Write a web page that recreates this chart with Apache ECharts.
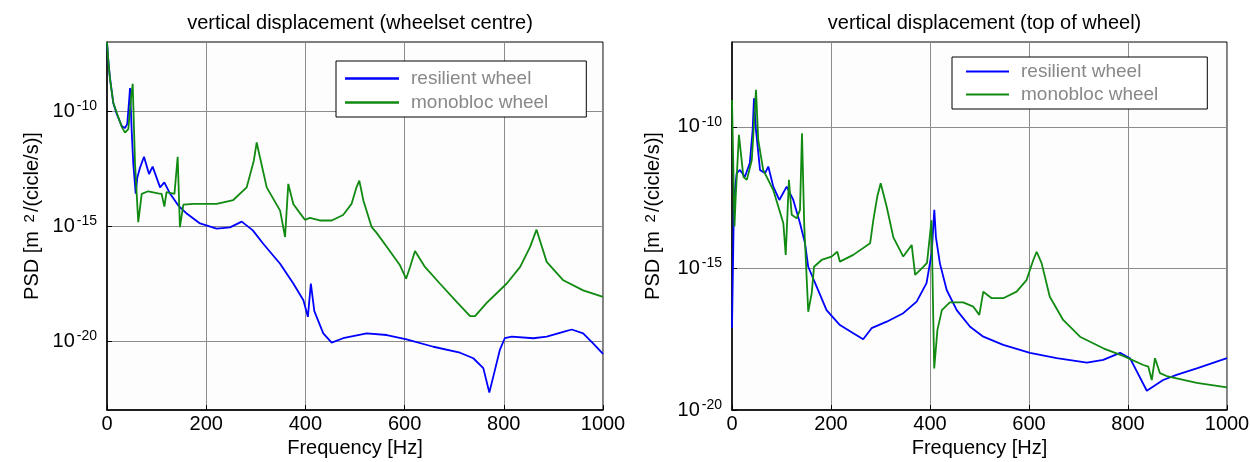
<!DOCTYPE html>
<html>
<head>
<meta charset="utf-8">
<script src="https://cdn.jsdelivr.net/npm/echarts@6/dist/echarts.min.js"></script>
<style>
html, body { margin: 0; padding: 0; background: #fff; }
#chart { width: 1250px; height: 462px; }
</style>
</head>
<body>
<div id="chart"></div>
<script>
// frequency [Hz] and log10 of PSD
const centreResFreq = [0, 3, 6, 12.7, 19.6, 29.6, 36.3, 40.9, 45, 46.4, 49.8, 53, 57.9, 61, 66.5, 74.6, 84.7, 92, 107, 115.6, 127, 143.8, 160.7, 187.5, 221, 248, 271.6, 294, 315, 349, 375.6, 396, 405, 411, 418, 436, 453, 476, 523.6, 564, 604, 658, 711.7, 738.5, 758.7, 770.8, 778.8, 792, 802, 816, 859.5, 886.5, 920, 937, 960, 980, 1000]
const centreResExp = [-7, -7.9, -8.57, -9.65, -10.13, -10.65, -10.74, -10.56, -9.44, -9.0, -10.87, -12.29, -13.59, -12.9, -12.47, -11.99, -12.74, -12.42, -13.32, -13.1, -13.59, -14.11, -14.46, -14.89, -15.11, -15.06, -14.81, -15.19, -15.77, -16.64, -17.5, -18.23, -18.95, -17.5, -18.7, -19.67, -20.07, -19.88, -19.67, -19.74, -19.93, -20.25, -20.51, -20.75, -21.18, -22.24, -21.55, -20.39, -19.88, -19.81, -19.88, -19.81, -19.6, -19.5, -19.67, -20.1, -20.56]

const centreMonoFreq = [0, 3, 6, 12.7, 20, 30, 36.3, 43, 48.4, 51.8, 56.5, 63, 70, 83, 103, 110, 115.7, 120, 136, 142.5, 147, 154, 174, 221, 254.6, 281.6, 296, 301.8, 308.5, 322, 349, 359, 365.5, 375.6, 389, 399, 409, 429, 453, 476, 493, 503, 508.7, 517, 533.7, 543.6, 564, 590.7, 603, 611, 621, 641, 671, 705, 732, 742, 765.5, 806, 833, 853, 866, 886.5, 920, 960, 1000]
const centreMonoExp = [-7, -7.9, -8.6, -9.64, -10.1, -10.7, -10.94, -10.79, -9.42, -8.82, -12.3, -14.83, -13.6, -13.49, -13.58, -13.6, -14.16, -13.53, -13.6, -11.99, -15.05, -14.07, -14.04, -14.04, -13.87, -13.32, -12.16, -11.37, -12.02, -13.32, -14.33, -15.48, -13.17, -14.04, -14.44, -14.73, -14.65, -14.76, -14.76, -14.52, -14.04, -13.32, -13.03, -13.9, -15.05, -15.3, -15.9, -16.71, -17.29, -16.78, -16.09, -16.78, -17.5, -18.3, -18.92, -18.92, -18.34, -17.5, -16.78, -15.91, -15.16, -16.56, -17.36, -17.8, -18.08]

const topResFreq = [0, 4, 9.4, 16, 26, 36, 41.7, 44.4, 48.5, 56.6, 66.7, 73.3, 83.4, 95.6, 110.5, 123.8, 137.4, 147.5, 154, 171, 191, 218, 245, 265, 282, 312.5, 346, 373, 393, 403.4, 408.7, 412, 420, 433.7, 454, 481, 507.7, 548, 602, 656, 717, 750, 784, 804, 838, 871, 898, 939, 1000]
const topResExp = [-17.1, -12.6, -11.64, -11.52, -11.76, -11.28, -10.11, -8.99, -10.11, -11.52, -11.64, -11.4, -12.11, -12.58, -12.11, -12.58, -13.4, -14.11, -14.94, -15.64, -16.47, -17.0, -17.29, -17.5, -17.11, -16.88, -16.58, -16.17, -15.52, -14.46, -12.93, -13.9, -14.82, -15.76, -16.47, -17.06, -17.41, -17.7, -17.98, -18.17, -18.33, -18.23, -17.98, -18.17, -19.32, -18.94, -18.76, -18.53, -18.17]

const topMonoFreq = [0, 5, 7.5, 14, 23, 30, 40, 48.5, 53, 63, 83.4, 103.7, 108.5, 115, 120.6, 130.7, 137.4, 141.4, 146, 154, 161, 165.7, 181, 201, 212.7, 218, 245, 279, 285.5, 293.5, 300.4, 312.5, 326, 346, 363, 370, 386.5, 394, 403, 408.5, 415, 424, 440, 467, 487.5, 499.6, 507.7, 524.6, 548, 575, 595, 608.7, 615.5, 625.6, 642, 669, 703, 750, 790, 831, 841, 848, 854.5, 864.6, 878, 939, 1000]
const topMonoExp = [-9.05, -13.52, -12.46, -10.28, -11.76, -11.87, -11.17, -8.69, -10.46, -11.52, -12.23, -13.4, -14.52, -11.87, -13.1, -13.23, -12.93, -10.22, -13.5, -16.53, -15.88, -14.94, -14.7, -14.58, -14.41, -14.76, -14.52, -14.11, -13.29, -12.46, -11.99, -12.82, -13.9, -14.58, -14.17, -15.23, -14.94, -14.8, -13.3, -18.53, -17.17, -16.47, -16.2, -16.2, -16.35, -16.64, -15.82, -16.05, -16.05, -15.82, -15.41, -14.7, -14.41, -14.82, -16.0, -16.82, -17.41, -17.82, -18.09, -18.41, -18.47, -18.94, -18.17, -18.7, -18.8, -19.04, -19.2]

const seriesNames = ['resilient wheel', 'monobloc wheel']
const titles = ['vertical displacement (wheelset centre)', 'vertical displacement (top of wheel)']
const yTickValues = [1e-20, 1e-15, 1e-10]
const yRanges = [[1e-23, 1e-7], [1e-20, 1e-7]]

const FONT = 'Liberation Sans, Arial, sans-serif'
const toPairs = (freq, exp) => freq.map((f, i) => [f, Math.pow(10, exp[i])])

const gridBoxes = [
  { left: 107, top: 42, width: 496, height: 368 },
  { left: 732, top: 42, width: 495, height: 368 }
]

const chart = echarts.init(document.getElementById('chart'))

const makeXAxis = (gridIndex) => ({
  type: 'value',
  gridIndex,
  min: 0,
  max: 1000,
  interval: 200,
  name: 'Frequency [Hz]',
  nameLocation: 'middle',
  nameGap: 22,
  nameTextStyle: { fontSize: 20, color: '#000', fontFamily: FONT },
  axisLine: { lineStyle: { color: '#000', width: 1.5 } },
  axisTick: { inside: true, length: 5, lineStyle: { color: '#000' } },
  axisLabel: { fontSize: 20, color: '#000', fontFamily: FONT, margin: 4, formatter: v => String(v) },
  splitLine: { show: true, lineStyle: { color: '#8c8c8c', width: 1 } }
})

const makeYAxis = (gridIndex, nameGap) => ({
  type: 'log',
  logBase: 10,
  gridIndex,
  min: yRanges[gridIndex][0],
  max: yRanges[gridIndex][1],
  name: 'PSD [m {s|2}/(cicle/s)]',
  nameLocation: 'middle',
  nameRotate: 90,
  nameGap,
  nameTextStyle: {
    fontSize: 20, color: '#000', fontFamily: FONT,
    padding: [0, 0, 0, 20],
    rich: { s: { fontSize: 15, color: '#000', fontFamily: FONT, verticalAlign: 'top', lineHeight: 14, padding: [0, 2, 0, 3] } }
  },
  axisLine: { lineStyle: { color: '#000', width: 1.5 } },
  axisTick: { inside: true, length: 5, customValues: yTickValues, lineStyle: { color: '#000' } },
  axisLabel: {
    customValues: yTickValues,
    margin: 10,
    formatter: v => '{b|10}{s|' + Math.round(Math.log10(v)) + '}',
    rich: {
      b: { fontSize: 20, color: '#000', fontFamily: FONT, lineHeight: 24 },
      s: { fontSize: 14, color: '#000', fontFamily: FONT, lineHeight: 14, verticalAlign: 'top', padding: [0, 0, 0, 2] }
    }
  },
  splitLine: { show: true, lineStyle: { color: '#8c8c8c', width: 1 } }
})

const makeLegend = (left, top, itemWidth, itemGap, padding) => ({
  left, top,
  orient: 'vertical',
  data: seriesNames,
  icon: 'path://M0 0H100V5H0Z',
  itemWidth,
  itemHeight: 18,
  itemGap,
  padding,
  borderColor: '#000',
  borderWidth: 1,
  borderRadius: 0,
  backgroundColor: '#fff',
  textStyle: { color: '#888', fontSize: 19, fontFamily: FONT, padding: [0, 0, 0, 7] }
})

const makeSeries = (name, gi, data, color) => ({
  name,
  type: 'line',
  xAxisIndex: gi,
  yAxisIndex: gi,
  data,
  symbol: 'none',
  lineStyle: { color, width: 1.8 },
  itemStyle: { color }
})

const option = {
  animation: false,
  backgroundColor: '#fff',
  title: titles.map((t, i) => ({
    text: t,
    left: gridBoxes[i].left + gridBoxes[i].width / 2,
    textAlign: 'center',
    top: 8,
    textStyle: { fontSize: 20, fontWeight: 'normal', color: '#000', fontFamily: FONT }
  })),
  grid: gridBoxes.map(g => ({
    ...g,
    containLabel: false,
    outerBoundsMode: 'none',
    show: true,
    borderColor: '#000',
    borderWidth: 1,
    backgroundColor: '#fdfdfd'
  })),
  xAxis: [makeXAxis(0), makeXAxis(1)],
  yAxis: [makeYAxis(0, 65), makeYAxis(1, 69)],
  legend: [
    makeLegend(336, 61, 54, 5, [8, 38, 5, 9]),
    makeLegend(952, 57, 43, 4, [5, 49, 5, 14])
  ],
  series: [
    makeSeries(seriesNames[0], 0, toPairs(centreResFreq, centreResExp), '#0000ff'),
    makeSeries(seriesNames[1], 0, toPairs(centreMonoFreq, centreMonoExp), '#108a10'),
    makeSeries(seriesNames[0], 1, toPairs(topResFreq, topResExp), '#0000ff'),
    makeSeries(seriesNames[1], 1, toPairs(topMonoFreq, topMonoExp), '#108a10')
  ]
}

chart.setOption(option)
</script>
</body>
</html>
